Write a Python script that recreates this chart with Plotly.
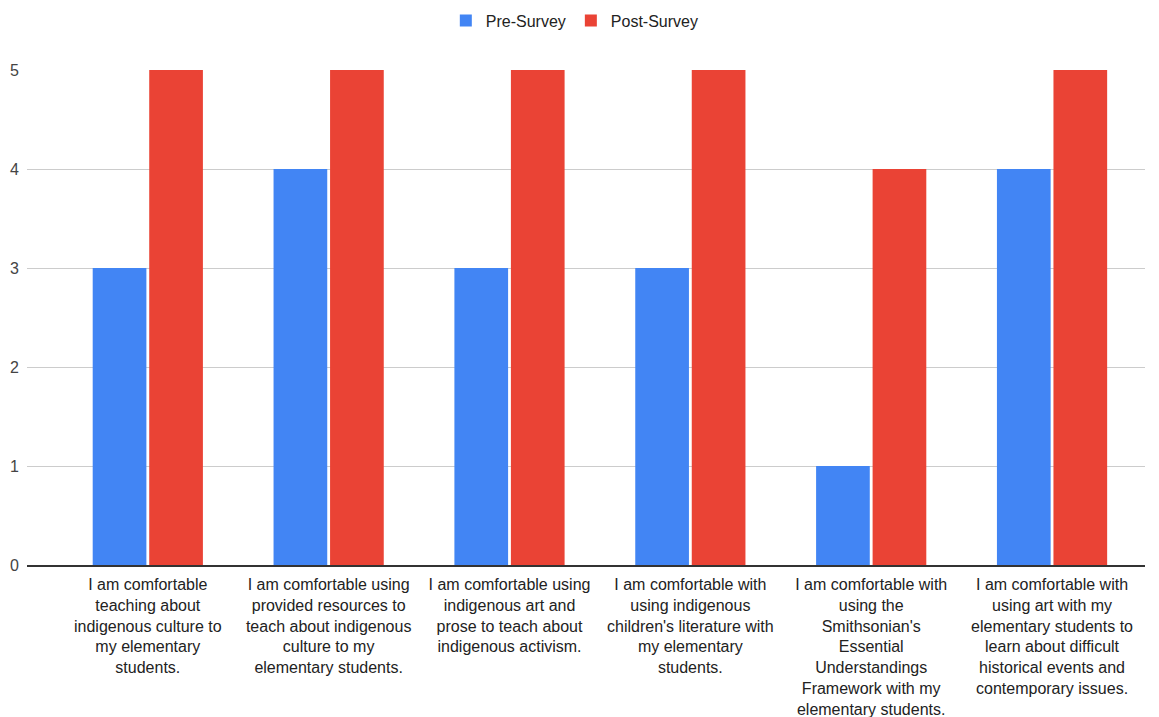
import plotly.graph_objects as go

categories = [
    "I am comfortable<br>teaching about<br>indigenous culture to<br>my elementary<br>students.",
    "I am comfortable using<br>provided resources to<br>teach about indigenous<br>culture to my<br>elementary students.",
    "I am comfortable using<br>indigenous art and<br>prose to teach about<br>indigenous activism.",
    "I am comfortable with<br>using indigenous<br>children's literature with<br>my elementary<br>students.",
    "I am comfortable with<br>using the<br>Smithsonian's<br>Essential<br>Understandings<br>Framework with my<br>elementary students.",
    "I am comfortable with<br>using art with my<br>elementary students to<br>learn about difficult<br>historical events and<br>contemporary issues.",
]
pre_survey = [3, 4, 3, 3, 1, 4]
post_survey = [5, 5, 5, 5, 4, 5]
y_ticks = [0, 1, 2, 3, 4, 5]

fig = go.Figure()
fig.add_trace(go.Bar(x=categories, y=pre_survey, name="Pre-Survey",
                     marker=dict(color="#4285F4", line=dict(width=0))))
fig.add_trace(go.Bar(x=categories, y=post_survey, name="Post-Survey",
                     marker=dict(color="#EA4335", line=dict(width=0))))

fig.update_layout(
    width=1159, height=717,
    margin=dict(l=27, r=14, t=70, b=152),
    plot_bgcolor="white", paper_bgcolor="white",
    barmode="group", bargap=0.375, bargroupgap=0.05,
    font=dict(family="Liberation Sans, Arial, sans-serif", size=15, color="#222"),
    legend=dict(orientation="h", x=0.49, xanchor="center", y=0.995, yanchor="top",
                yref="container", font=dict(size=16, color="#222"),
                itemwidth=30),
    showlegend=True,
)
fig.update_xaxes(
    range=[-0.668, 5.514], showline=True, linecolor="#333", linewidth=1.5,
    tickfont=dict(size=16, color="#222"), showgrid=False, ticks="",
    automargin=False, ticklabelstandoff=4,
)
fig.update_yaxes(
    range=[0, 5], tickvals=y_ticks, showgrid=True, gridcolor="#cccccc", gridwidth=1,
    zeroline=False, tickfont=dict(size=16, color="#444"), automargin=False,
    ticklabelstandoff=7,
)

fig.write_html("out.html")
